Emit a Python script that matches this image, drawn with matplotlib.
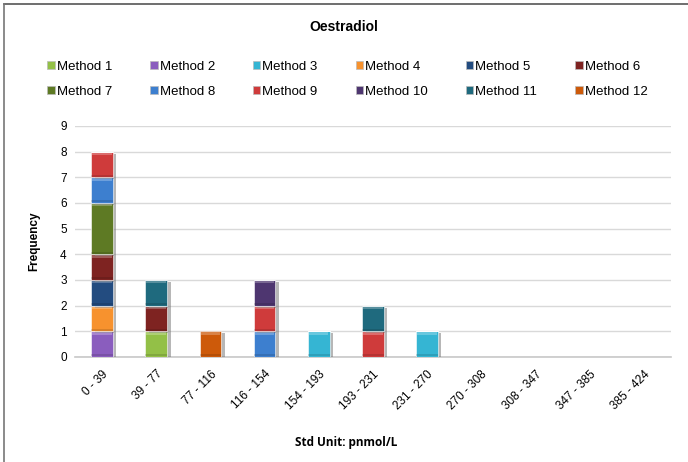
import numpy as np
import matplotlib
matplotlib.use("Agg")
from matplotlib import pyplot as plt
from matplotlib import patheffects
from matplotlib.patches import Patch

plt.rcParams['font.family'] = ['Liberation Sans', 'DejaVu Sans']

bins = ['0 - 39', '39 - 77', '77 - 116', '116 - 154', '154 - 193', '193 - 231',
        '231 - 270', '270 - 308', '308 - 347', '347 - 385', '385 - 424']

methods = ['Method %d' % i for i in range(1, 13)]

# frequency of each method per concentration bin
method_1 = [0, 1, 0, 0, 0, 0, 0, 0, 0, 0, 0]
method_2 = [1, 0, 0, 0, 0, 0, 0, 0, 0, 0, 0]
method_3 = [0, 0, 0, 0, 1, 0, 1, 0, 0, 0, 0]
method_4 = [1, 0, 0, 0, 0, 0, 0, 0, 0, 0, 0]
method_5 = [1, 0, 0, 0, 0, 0, 0, 0, 0, 0, 0]
method_6 = [1, 1, 0, 0, 0, 0, 0, 0, 0, 0, 0]
method_7 = [2, 0, 0, 0, 0, 0, 0, 0, 0, 0, 0]
method_8 = [1, 0, 0, 1, 0, 0, 0, 0, 0, 0, 0]
method_9 = [1, 0, 0, 1, 0, 1, 0, 0, 0, 0, 0]
method_10 = [0, 0, 0, 1, 0, 0, 0, 0, 0, 0, 0]
method_11 = [0, 1, 0, 0, 0, 1, 0, 0, 0, 0, 0]
method_12 = [0, 0, 1, 0, 0, 0, 0, 0, 0, 0, 0]

series = [method_1, method_2, method_3, method_4, method_5, method_6,
          method_7, method_8, method_9, method_10, method_11, method_12]

colours = ['#93C047', '#8A5DBE', '#35B5D3', '#F7922E', '#234C80', '#7E2321',
           '#5E7A24', '#3D7FCF', '#CF3B3B', '#4E3670', '#1F6A7E', '#CD5A0A']

fig = plt.figure(figsize=(6.88, 4.62), dpi=100)
ax = fig.add_axes([0.109, 0.2273, 0.866, 0.5])

x = np.arange(len(bins))
bottom = np.zeros(len(bins))
shadow = [patheffects.SimplePatchShadow(offset=(2.5, -1.5), shadow_rgbFace='#707070', alpha=0.5),
          patheffects.Normal()]
for vals, col in zip(series, colours):
    vals = np.array(vals, dtype=float)
    bars = ax.bar(x, vals, 0.4, bottom=bottom, color=col, edgecolor='#ffffff',
                  linewidth=0.4, zorder=3)
    for b, v in zip(bars, vals):
        if v > 0:
            b.set_path_effects(shadow)
            cx = b.get_x() + b.get_width() / 2
            top = b.get_y() + b.get_height()
            # bevel: light band on top, darker band at the bottom
            ax.bar(cx, 0.1, b.get_width() * 0.9, bottom=top - 0.13, color='white',
                   alpha=0.25, linewidth=0, zorder=4)
            ax.bar(cx, 0.08, b.get_width(), bottom=b.get_y() + 0.02, color='black',
                   alpha=0.12, linewidth=0, zorder=4)
    bottom += vals

ax.set_xlim(-0.5, len(bins) - 0.5)
ax.set_ylim(0, 9)
ax.set_yticks(range(0, 10))
ax.yaxis.grid(True, color='#d9d9d9', linewidth=1.0, zorder=0)
ax.set_axisbelow(True)
for s in ['top', 'right', 'left']:
    ax.spines[s].set_visible(False)
ax.spines['bottom'].set_color('#c8c8c8')
ax.spines['bottom'].set_linewidth(1.2)
ax.tick_params(length=0, labelsize=8.5, pad=6)
ax.set_xticks(x)
ax.set_xticklabels(bins, rotation=45, ha='right', rotation_mode='anchor')
ax.tick_params(axis='x', pad=8)

ax.set_ylabel('Frequency', fontsize=8.5, fontweight='bold', labelpad=14)
fig.text(0.503, 0.042, 'Std Unit: pnmol/L', ha='center', va='center',
         fontsize=8.5, fontweight='bold', family=['Open Sans', 'DejaVu Sans'])
fig.text(0.5, 0.941, 'Oestradiol', ha='center', va='center', fontsize=10, fontweight='bold')

# legend is filled column by column, so interleave the two rows
handles = [Patch(facecolor=c, edgecolor='#bbbbbb', linewidth=0.5) for c in colours]
order = [i + r * 6 for i in range(6) for r in range(2)]
fig.legend([handles[i] for i in order], [methods[i] for i in order], ncol=6,
           loc='center', bbox_to_anchor=(0.505, 0.828), frameon=False, fontsize=9.5,
           handlelength=0.55, handleheight=0.55, handletextpad=0.15,
           columnspacing=2.9, labelspacing=1.0)

# chart border
fig.add_artist(plt.Line2D([0.006, 1.0], [0.991, 0.991], color='#555555', linewidth=1.2))
fig.add_artist(plt.Line2D([0.006, 0.006], [0.0, 0.991], color='#777777', linewidth=1.2))

fig.savefig('out.png', dpi=100)
